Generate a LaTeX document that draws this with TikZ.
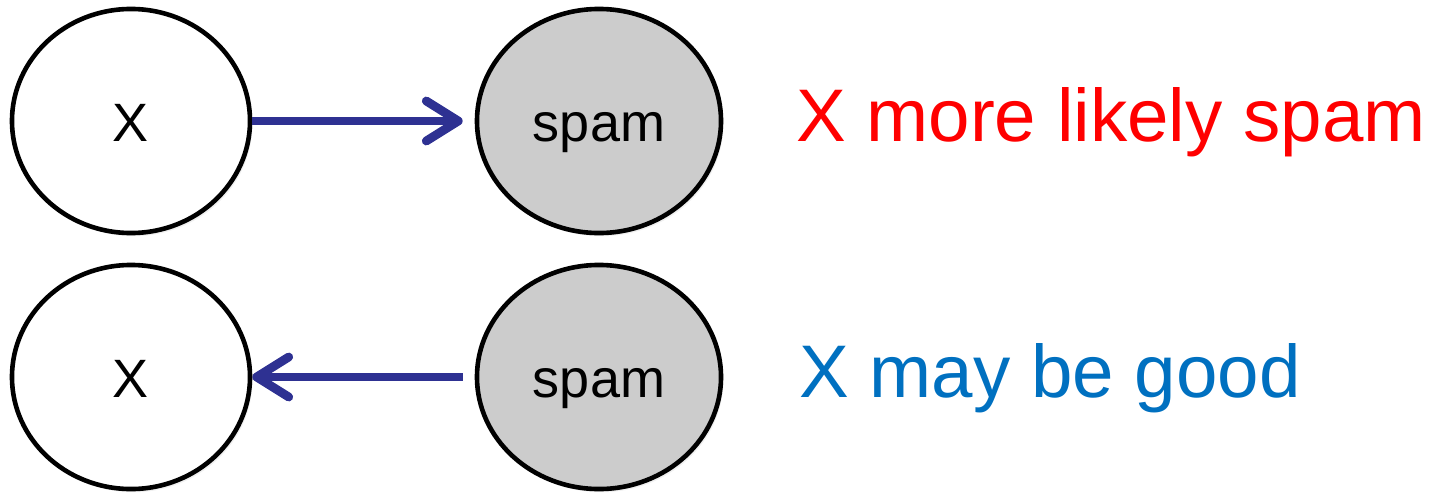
\documentclass[tikz,border=0pt]{standalone}
\usepackage{fontspec}
\setmainfont{Liberation Sans}
\usetikzlibrary{shapes.geometric,arrows.meta,shadows}
\definecolor{arrowblue}{RGB}{46,49,146}
\definecolor{nodegray}{RGB}{204,204,204}
\definecolor{goodblue}{RGB}{0,112,192}
\definecolor{spamred}{RGB}{255,0,0}
\tikzset{
  varnode/.style={ellipse, draw=black, line width=0.115cm, inner sep=0pt,
    minimum width=5.95cm, minimum height=5.6cm, fill=white,
    text height=1cm, text depth=0cm,
    font=\fontsize{38.4pt}{40pt}\selectfont,
    drop shadow={opacity=0.12, shadow xshift=0.06cm, shadow yshift=-0.08cm}},
  spamnode/.style={varnode, fill=nodegray, minimum width=6.1cm},
  link/.style={draw=arrowblue, line width=0.2cm,
    -{Straight Barb[round, length=0.8cm, width=1.0cm, line width=0.22cm]}},
  caption/.style={anchor=base west, inner sep=0pt,
    font=\fontsize{53pt}{56pt}\selectfont}
}
\begin{document}
\begin{tikzpicture}[x=0.025cm, y=-0.025cm]
  \useasboundingbox (0,0) rectangle (1432,493);
  \node[varnode]  (x1) at (131,121) {X};
  \node[spamnode] (s1) at (599,121) {spam};
  \node[varnode]  (x2) at (131,377) {X};
  \node[spamnode] (s2) at (599,377) {spam};
  \draw[link, shorten >=0.3cm] (x1) -- (s1);
  \draw[link, shorten <=0.3cm] (s2) -- (x2);
  \node[caption, text=spamred] (c1) at (796,141) {X more likely spam};
  \node[caption, text=goodblue] (c2) at (799,397) {X may be good};
\end{tikzpicture}
\end{document}
